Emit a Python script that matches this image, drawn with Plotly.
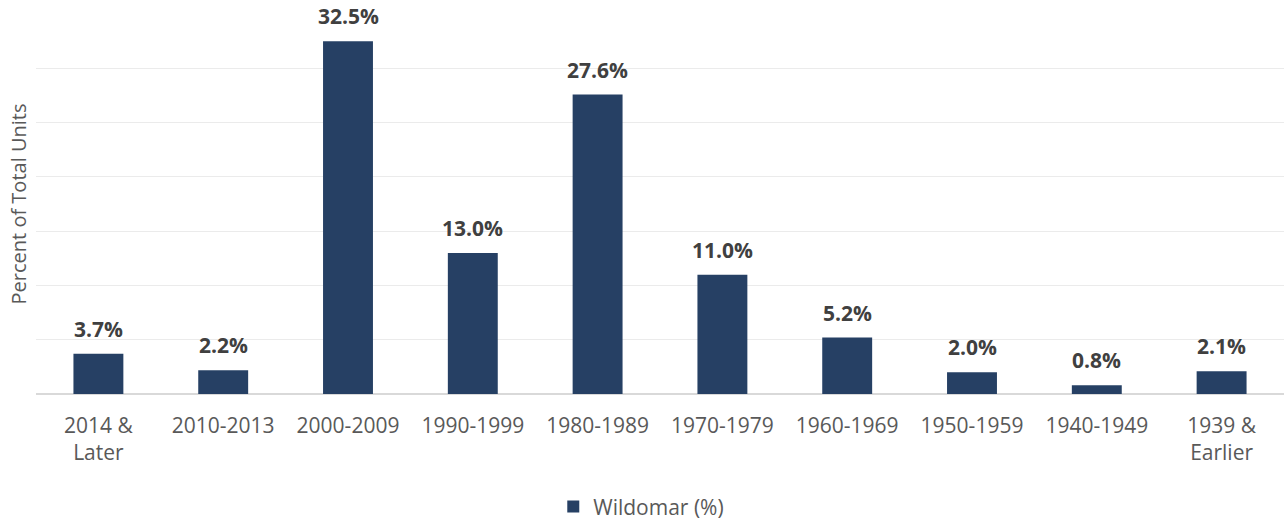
import plotly.graph_objects as go

categories = ["2014 &<br>Later", "2010-2013", "2000-2009", "1990-1999", "1980-1989",
              "1970-1979", "1960-1969", "1950-1959", "1940-1949", "1939 &<br>Earlier"]
values = [3.7, 2.2, 32.5, 13.0, 27.6, 11.0, 5.2, 2.0, 0.8, 2.1]
labels = ["3.7%", "2.2%", "32.5%", "13.0%", "27.6%", "11.0%", "5.2%", "2.0%", "0.8%", "2.1%"]
series_name = "Wildomar (%)"

fig = go.Figure()
fig.add_trace(go.Bar(
    x=categories, y=values, name=series_name,
    marker=dict(color="#264064", line=dict(width=0)),
    width=0.4,
    showlegend=True,
))

for c, v, t in zip(categories, values, labels):
    fig.add_annotation(x=c, y=v, text=t, showarrow=False, yanchor="bottom", yshift=9,
                       font=dict(family="Open Sans", size=21, color="#404040", weight="bold"))

fig.update_layout(
    width=1286, height=521,
    margin=dict(l=36, r=2, t=14, b=127),
    paper_bgcolor="white", plot_bgcolor="white",
    font=dict(family="Open Sans", size=21, color="#595959"),
    xaxis=dict(showgrid=False, showline=False, ticks="", automargin=False,
               tickfont=dict(size=21, color="#595959"), ticklabelstandoff=17),
    yaxis=dict(range=[0, 35.02], dtick=5, showgrid=True, gridcolor="#EBEBEB", gridwidth=1,
               showticklabels=False, zeroline=True, zerolinecolor="#D9D9D9", zerolinewidth=2,
               automargin=False,
               title=dict(text="Percent of Total Units", font=dict(size=20, color="#595959"), standoff=3)),
    legend=dict(orientation="h", x=0.485, xanchor="center", yref="container", y=0.027, yanchor="middle",
                font=dict(size=21, color="#595959")),
    bargap=0.6,
)

fig.write_html("out.html", config={"displayModeBar": False},
               post_script="document.body.style.margin='0';document.body.style.overflow='hidden';")
